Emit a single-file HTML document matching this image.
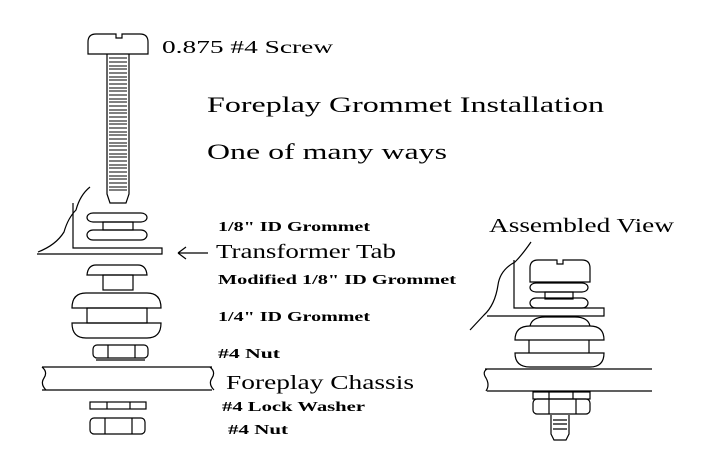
<!DOCTYPE html>
<html><head><meta charset="utf-8"><style>
html,body{margin:0;padding:0;background:#fff}
svg{display:block}
text{font-family:"Liberation Serif",serif;fill:#000}
</style></head><body>
<svg width="725" height="475" viewBox="0 0 725 475" xmlns="http://www.w3.org/2000/svg">
<g fill="none" stroke="#000" stroke-width="1.2">
<!-- screw -->
<path d="M88,54 V42 Q88,34 96,34 H116 V38 H122 V34 H140 Q148,34 148,42 V54 Z"/>
<path d="M107,54 V194 L110,203 H126 L129,194 V54"/>
<path stroke-width="1" d="M109,58H127M109,62H127M109,66H127M109,69H127M109,73H127M109,77H127M109,80H127M109,84H127M109,88H127M109,91H127M109,95H127M109,99H127M109,102H127M109,106H127M109,110H127M109,113H127M109,117H127M109,121H127M109,124H127M109,128H127M109,132H127M109,135H127M109,139H127M109,143H127M109,146H127M109,150H127M109,154H127M109,157H127M109,161H127M109,165H127M109,168H127M109,172H127M109,176H127M109,179H127M109,183H127M109,187H127M109,190H127"/>
<!-- 1/8 grommet -->
<rect x="87" y="213" width="60" height="9" rx="6"/>
<rect x="103" y="222" width="30" height="8"/>
<rect x="87" y="230" width="60" height="10" rx="6"/>
<!-- tab -->
<path d="M73,203 V248 H162 V254 H37"/>
<path d="M90,187 Q80,195 76,210 Q68,218 64,232 Q56,245 38,252"/>
<!-- arrow -->
<path d="M178,253 H208 M178,253 L186,247 M178,253 L186,259"/>
<!-- modified grommet -->
<path d="M87,275 Q88,265 96,265 H138 Q146,265 147,275 Z"/>
<rect x="103" y="275" width="30" height="15"/>
<!-- 1/4 grommet -->
<path d="M72,308 Q72,293 86,293 H147 Q161,293 161,308 Z"/>
<rect x="87" y="308" width="60" height="15"/>
<path d="M72,323 H161 Q161,338 147,338 H86 Q72,338 72,323 Z"/>
<!-- nut -->
<rect x="93" y="345" width="55" height="13" rx="4"/>
<path d="M108,345 V358 M135,345 V358"/>
<path d="M96,360 H145"/>
<!-- chassis -->
<path d="M42,367 H212 M42,390 H212"/>
<path d="M42,367 Q48,372 44,378 Q40,384 46,390 M210,367 Q216,372 212,378 Q208,384 214,390"/>
<!-- lock washer -->
<rect x="90" y="402" width="56" height="7"/>
<path d="M107,402 V409 M130,402 V409"/>
<!-- nut 2 -->
<rect x="90" y="418" width="55" height="16" rx="4"/>
<path d="M105,418 V434 M132,418 V434"/>
<!-- assembled -->
<path d="M530,282 V268 Q530,260 538,260 H557 V264 H563 V260 H582 Q590,260 590,268 V282 Z"/>
<rect x="530" y="283" width="58" height="9" rx="6"/>
<rect x="545" y="292" width="28" height="7"/>
<rect x="530" y="298" width="58" height="10" rx="6"/>
<path d="M514,260 V308 H604 V316 H487"/>
<path d="M531,242 Q522,255 515,262 Q500,270 498,285 Q495,305 484,315 L470,330"/>
<path d="M530,326 Q532,317 545,317 H575 Q588,317 590,326"/>
<path d="M515,340 Q515,326 530,326 H590 Q604,326 604,340 Z"/>
<path d="M529,340 V353 M589,340 V353"/>
<path d="M515,353 H604 Q604,367 590,367 H530 Q515,367 515,353 Z"/>
<path d="M485,369 H652 M487,391 H652"/>
<path d="M487,369 Q482,372 486,378 Q490,385 486,391"/>
<rect x="533" y="392" width="57" height="7"/>
<path d="M549,392 V399 M573,392 V399"/>
<rect x="533" y="399" width="57" height="15" rx="4"/>
<path d="M549,399 V414 M576,399 V414"/>
<path d="M551,415 V434 L554,440 H566 L569,434 V415"/>
<path d="M553,420H567M553,424H567M553,429H567"/>
</g>
<text x="162" y="53" font-size="18" textLength="171" lengthAdjust="spacingAndGlyphs">0.875 #4 Screw</text>
<text x="207" y="112" font-size="22" textLength="397" lengthAdjust="spacingAndGlyphs">Foreplay Grommet Installation</text>
<text x="207" y="159" font-size="22" textLength="240" lengthAdjust="spacingAndGlyphs">One of many ways</text>
<text x="218" y="231" font-size="14" font-weight="bold" textLength="152" lengthAdjust="spacingAndGlyphs">1/8" ID Grommet</text>
<text x="216" y="258" font-size="20" textLength="180" lengthAdjust="spacingAndGlyphs">Transformer Tab</text>
<text x="218" y="284" font-size="14" font-weight="bold" textLength="238" lengthAdjust="spacingAndGlyphs">Modified 1/8" ID Grommet</text>
<text x="218" y="321" font-size="14" font-weight="bold" textLength="152" lengthAdjust="spacingAndGlyphs">1/4" ID Grommet</text>
<text x="218" y="358" font-size="14" font-weight="bold" textLength="62" lengthAdjust="spacingAndGlyphs">#4 Nut</text>
<text x="226" y="389" font-size="20" textLength="188" lengthAdjust="spacingAndGlyphs">Foreplay Chassis</text>
<text x="222" y="411" font-size="14" font-weight="bold" textLength="143" lengthAdjust="spacingAndGlyphs">#4 Lock Washer</text>
<text x="228" y="434" font-size="14" font-weight="bold" textLength="60" lengthAdjust="spacingAndGlyphs">#4 Nut</text>
<text x="489" y="232" font-size="20" textLength="185" lengthAdjust="spacingAndGlyphs">Assembled View</text>
</svg>
</body></html>
